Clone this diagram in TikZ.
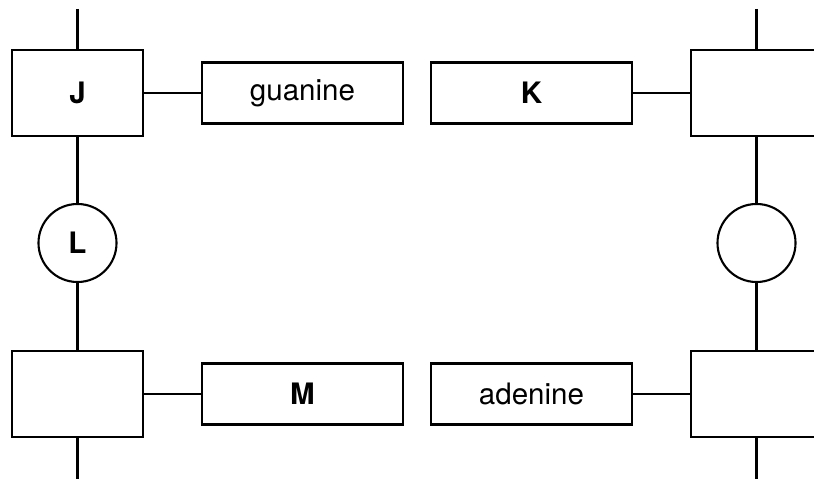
\documentclass[tikz,border=0pt]{standalone}
\usepackage{fontspec}
\setmainfont{TeX Gyre Heros}
\usepackage{tikz}

\begin{document}
\begin{tikzpicture}[x=0.025cm, y=0.025cm, line width=1.5pt,
        sugarbox/.style={draw, rectangle, minimum width=3.275cm, minimum height=2.15cm, inner sep=0pt},
        basebox/.style={draw, rectangle, minimum width=5.025cm, minimum height=1.525cm, inner sep=0pt},
        phos/.style={draw, circle, minimum size=1.95cm, inner sep=0pt},
        every node/.style={font=\fontsize{21}{25}\selectfont}]
        \clip (0,0) rectangle (814,479);
        \useasboundingbox (0,0) rectangle (814,479);

        % Left strand
        \node[sugarbox] (J) at (77.5,386) {\textbf{J}};
        \node[phos] (L) at (77.5,236) {\textbf{L}};
        \node[sugarbox] (sugarBL) at (77.5,85) {};
        \coordinate (ltop) at (77.5,470);
        \coordinate (lbot) at (77.5,0);

        % Right strand
        \node[sugarbox] (sugarTR) at (756.5,386) {};
        \node[phos] (phosR) at (756.5,236) {};
        \node[sugarbox] (sugarBR) at (756.5,85) {};
        \coordinate (rtop) at (756.5,470);
        \coordinate (rbot) at (756.5,0);

        % Bases
        \node[basebox] (guanine) at (302.5,386) {guanine};
        \node[basebox] (K) at (531.5,386) {\textbf{K}};
        \node[basebox] (M) at (302.5,85) {\textbf{M}};
        \node[basebox] (adenine) at (531.5,85) {adenine};

        % Backbone
        \draw (ltop) -- (J) -- (L) -- (sugarBL) -- (lbot);
        \draw (rtop) -- (sugarTR) -- (phosR) -- (sugarBR) -- (rbot);

        % Sugar to base
        \draw (J) -- (guanine);
        \draw (K) -- (sugarTR);
        \draw (sugarBL) -- (M);
        \draw (adenine) -- (sugarBR);
    \end{tikzpicture}
\end{document}
